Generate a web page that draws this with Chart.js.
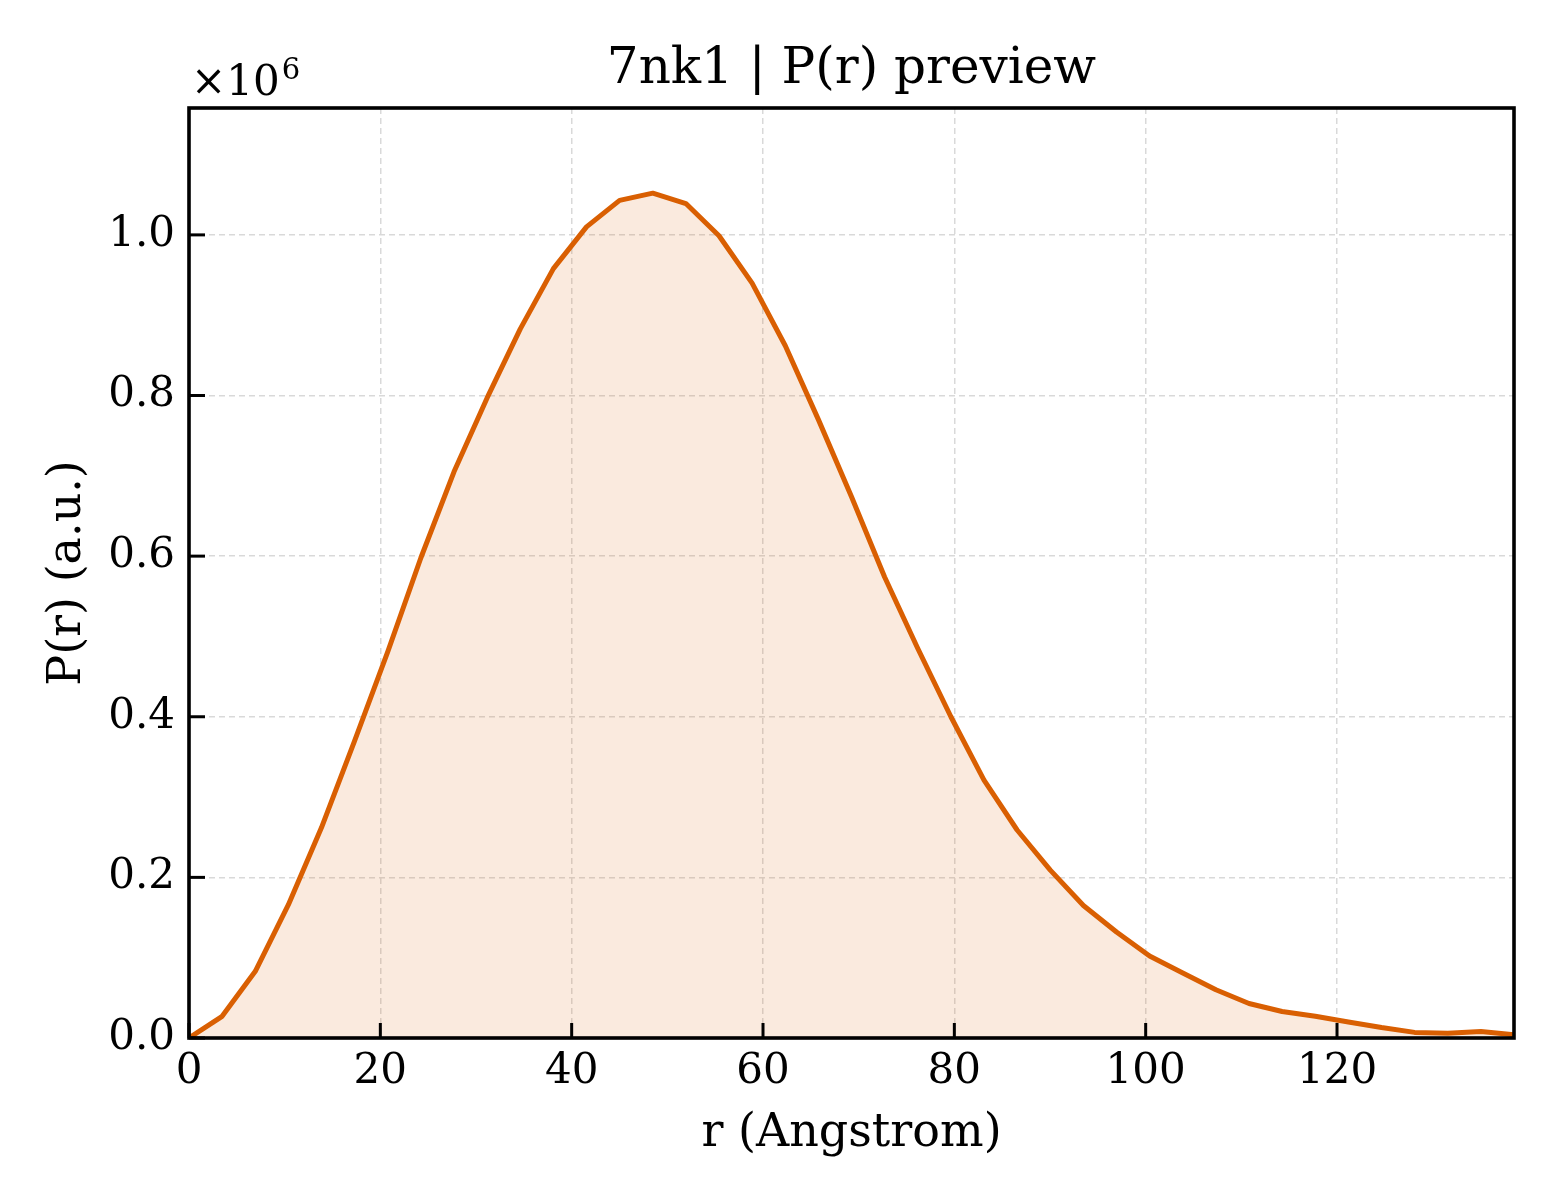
<!DOCTYPE html>
<html>
<head>
<meta charset="utf-8">
<script src="https://cdn.jsdelivr.net/npm/chart.js@4.4.1/dist/chart.umd.min.js"></script>
<style>
  html, body { margin: 0; padding: 0; background: #ffffff; }
  #wrap { width: 1560px; height: 1200px; }
</style>
</head>
<body>
<div id="wrap"><canvas id="c" width="1560" height="1200"></canvas></div>
<script>
// ---- data ----
const rValues = [0, 3.46, 6.93, 10.39, 13.85, 17.31, 20.78, 24.24, 27.7, 31.16,
  34.63, 38.09, 41.55, 45.01, 48.48, 51.94, 55.4, 58.86, 62.33, 65.79,
  69.25, 72.71, 76.18, 79.64, 83.1, 86.56, 90.03, 93.49, 96.95, 100.41,
  103.88, 107.34, 110.8, 114.26, 117.73, 121.19, 124.65, 128.11, 131.58, 135.04, 138.5];
const prValues = [0, 27000, 83000, 166000, 262000, 370000, 481000, 598000, 705000, 797000,
  883000, 958000, 1010000, 1043000, 1052000, 1039000, 999000, 940000, 862000, 770000,
  674000, 574000, 485000, 400000, 321000, 259000, 209000, 165000, 132000, 102000,
  81000, 60000, 43000, 33000, 27000, 20000, 13000, 7000, 6000, 8000, 4000];
const xTicks = [0, 20, 40, 60, 80, 100, 120];
const yTicks = [0, 200000, 400000, 600000, 800000, 1000000];
const xMax = 138.5;
const yMax = 1158000;
const titleText = '7nk1 | P(r) preview';
const xLabel = 'r (Angstrom)';
const yLabel = 'P(r) (a.u.)';

const FONT = "'DejaVu Serif', 'Liberation Serif', serif";
Chart.defaults.color = '#000000';
Chart.defaults.font.family = FONT;

const points = rValues.map((r, i) => ({ x: r, y: prValues[i] }));

const framePlugin = {
  id: 'framePlugin',
  afterDraw(chart) {
    const { ctx, chartArea: a, scales } = chart;
    ctx.save();
    // inward tick marks
    ctx.strokeStyle = '#000';
    ctx.lineWidth = 3;
    ctx.lineCap = 'butt';
    const xs = scales.x, ys = scales.y;
    xs.ticks.forEach(t => {
      const px = xs.getPixelForValue(t.value);
      ctx.beginPath();
      ctx.moveTo(px, a.bottom);
      ctx.lineTo(px, a.bottom - 15);
      ctx.stroke();
    });
    ys.ticks.forEach(t => {
      const py = ys.getPixelForValue(t.value);
      ctx.beginPath();
      ctx.moveTo(a.left, py);
      ctx.lineTo(a.left + 16, py);
      ctx.stroke();
    });
    // frame
    ctx.lineWidth = 3.6;
    ctx.strokeRect(a.left, a.top, a.right - a.left, a.bottom - a.top);
    // offset text x10^6
    ctx.fillStyle = '#000';
    ctx.textBaseline = 'alphabetic';
    ctx.textAlign = 'left';
    ctx.font = "42px " + FONT;
    const base = a.top - 13;
    ctx.fillText('\u00d710', a.left + 2, base);
    const w = ctx.measureText('\u00d710').width;
    ctx.font = "29px " + FONT;
    ctx.fillText('6', a.left + 2 + w + 2, base - 16);
    ctx.restore();
  }
};

new Chart(document.getElementById('c'), {
  type: 'line',
  data: {
    datasets: [{
      data: points,
      borderColor: '#d95f02',
      backgroundColor: 'rgba(217,95,2,0.13)',
      borderWidth: 5,
      fill: 'origin',
      pointRadius: 0,
      tension: 0,
      borderJoinStyle: 'round'
    }]
  },
  options: {
    responsive: false,
    animation: false,
    devicePixelRatio: 1,
    layout: { padding: { left: 0, right: 46, top: 0, bottom: 0 } },
    plugins: {
      legend: { display: false },
      tooltip: { enabled: false },
      title: {
        display: true,
        fullSize: false,
        text: titleText,
        color: '#000',
        font: { family: FONT, size: 50, weight: 'normal', lineHeight: 1.2 },
        padding: { top: 40, bottom: 8 }
      }
    },
    scales: {
      x: {
        type: 'linear',
        bounds: 'data',
        min: 0,
        max: xMax,
        afterFit(scale) { scale.height = 162; },
        afterBuildTicks(scale) { scale.ticks = xTicks.map(v => ({ value: v })); },
        ticks: {
          autoSkip: false,
          maxRotation: 0,
          padding: 9,
          font: { family: FONT, size: 42, lineHeight: 1.2 },
          callback: v => String(v)
        },
        grid: { display: true, color: '#d9d9d9', lineWidth: 1.5, drawTicks: false },
        border: { display: false, dash: [6, 4] },
        title: {
          display: true,
          text: xLabel,
          font: { family: FONT, size: 46, lineHeight: 1.2 },
          padding: { top: 0, bottom: 38 }
        }
      },
      y: {
        type: 'linear',
        bounds: 'data',
        min: 0,
        max: yMax,
        afterFit(scale) { scale.width = 189; },
        afterBuildTicks(scale) { scale.ticks = yTicks.map(v => ({ value: v })); },
        ticks: {
          autoSkip: false,
          padding: 14,
          font: { family: FONT, size: 42, lineHeight: 1.2 },
          callback: v => (v / 1e6).toFixed(1)
        },
        grid: { display: true, color: '#d9d9d9', lineWidth: 1.5, drawTicks: false },
        border: { display: false, dash: [6, 4] },
        title: {
          display: true,
          text: yLabel,
          font: { family: FONT, size: 46, lineHeight: 1.2 },
          padding: { top: 40, bottom: 0 }
        }
      }
    }
  },
  plugins: [framePlugin]
});
</script>
</body>
</html>
